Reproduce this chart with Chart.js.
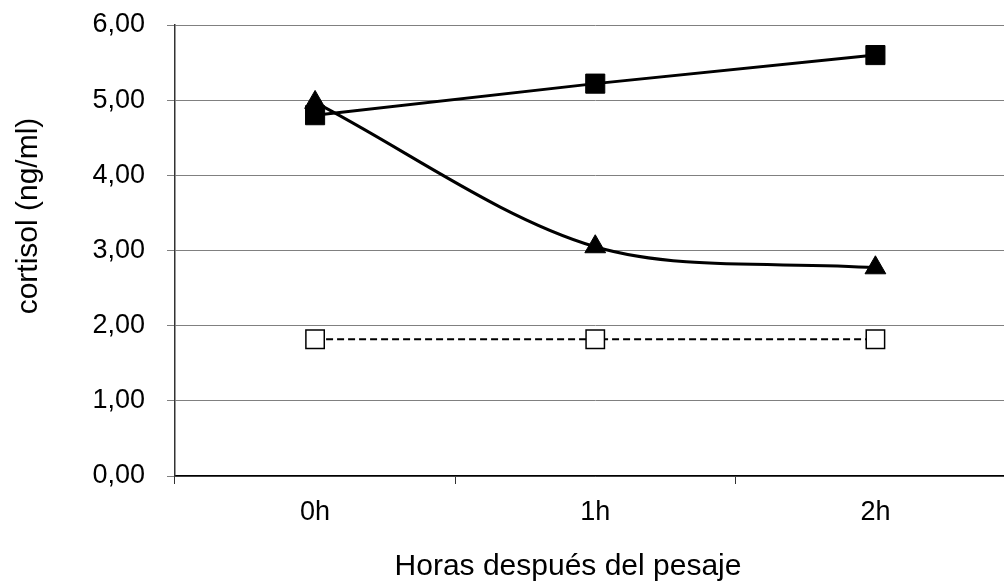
<!DOCTYPE html>
<html>
<head>
<meta charset="utf-8">
<script src="https://cdn.jsdelivr.net/npm/chart.js@4"></script>
<style>
  html, body { margin: 0; padding: 0; background: #fff; overflow: hidden; }
  #wrap { position: relative; width: 1030px; height: 582px; }
</style>
</head>
<body>
<div id="wrap"><canvas id="grafico"></canvas></div>
<script>
// datos
const horas = ['0h', '1h', '2h'];
const serieCuadrado = [4.80, 5.22, 5.60];
const serieTriangulo = [4.97, 3.05, 2.77];
const serieControl = [1.82, 1.82, 1.82];
const ticksY = [0, 1, 2, 3, 4, 5, 6];
const tituloEjeY = 'cortisol (ng/ml)';
const tituloEjeX = 'Horas después del pesaje';

Chart.defaults.font.family = '"Liberation Sans", Arial, sans-serif';
Chart.defaults.font.size = 27;
Chart.defaults.color = '#000';

const fmt = v => v.toFixed(2).replace('.', ',');

// títulos de los ejes: en el original no están centrados sobre el área del gráfico
const titulosEjes = {
    id: 'titulosEjes',
    afterDraw(chart) {
        const ctx = chart.ctx;
        ctx.save();
        ctx.font = '30px "Liberation Sans", Arial, sans-serif';
        ctx.fillStyle = '#000';
        ctx.textAlign = 'center';
        ctx.textBaseline = 'middle';
        ctx.fillText(tituloEjeX, 568, 567);
        ctx.translate(29, 216);
        ctx.rotate(-Math.PI / 2);
        ctx.fillText(tituloEjeY, 0, 0);
        ctx.restore();
    }
};

new Chart(document.getElementById('grafico'), {
    type: 'line',
    data: {
        labels: horas,
        datasets: [
            {
                data: serieCuadrado,
                borderColor: '#000',
                borderWidth: 3,
                backgroundColor: '#000',
                pointStyle: 'rect',
                pointRadius: 13.5,
                pointBorderWidth: 1,
                tension: 0
            },
            {
                data: serieTriangulo,
                borderColor: '#000',
                borderWidth: 3,
                backgroundColor: '#000',
                pointStyle: 'triangle',
                pointRadius: 12,
                pointBorderWidth: 1,
                tension: 0.32
            },
            {
                data: serieControl,
                borderColor: '#000',
                borderWidth: 2,
                borderDash: [7, 4],
                backgroundColor: '#fff',
                pointBackgroundColor: '#fff',
                pointBorderColor: '#000',
                pointStyle: 'rect',
                pointRadius: 13,
                pointBorderWidth: 1.5,
                tension: 0
            }
        ]
    },
    options: {
        responsive: true,
        maintainAspectRatio: false,
        animation: false,
        layout: { padding: { top: 25, right: 0, left: 0, bottom: 0 } },
        plugins: { legend: { display: false }, tooltip: { enabled: false } },
        scales: {
            x: {
                offset: true,
                grid: {
                    offset: true,
                    drawOnChartArea: false,
                    drawTicks: true,
                    tickLength: 8,
                    color: '#333'
                },
                border: { color: '#000', width: 1.5 },
                ticks: { padding: 12 },
                afterFit: s => { s.height = 106; s.paddingRight = 0; }
            },
            y: {
                min: 0,
                max: 6,
                afterBuildTicks: s => { s.ticks = ticksY.map(v => ({ value: v })); },
                grid: {
                    color: '#808080',
                    lineWidth: 1,
                    tickLength: 8
                },
                border: { color: '#333', width: 1.5 },
                ticks: { padding: 22, callback: v => fmt(v) },
                afterFit: s => { s.width = 175; s.paddingTop = 0; s.paddingBottom = 0; }
            }
        }
    },
    plugins: [titulosEjes]
});
</script>
</body>
</html>
